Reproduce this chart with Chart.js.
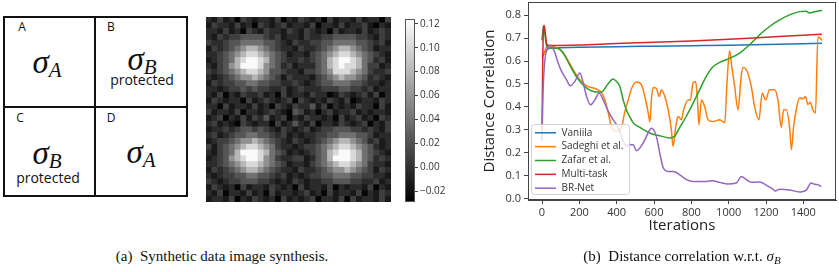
<!DOCTYPE html>
<html><head><meta charset="utf-8">
<script src="https://cdn.jsdelivr.net/npm/chart.js@4.4.0/dist/chart.umd.min.js"></script>
<style>
html,body{margin:0;padding:0;background:#fff;width:839px;height:272px;overflow:hidden;}
#wrap{position:relative;width:839px;height:272px;}
.abs{position:absolute;}
.lbl{position:absolute;font-family:'Open Sans',sans-serif;font-size:12px;color:#111;transform:translate(-50%,-50%);white-space:nowrap;line-height:1;}
.prot{position:absolute;font-family:'Open Sans',sans-serif;font-size:14px;color:#111;transform:translate(-50%,-50%);white-space:nowrap;line-height:1;}
.sig{position:absolute;font-family:'Liberation Serif',serif;font-style:italic;color:#111;white-space:nowrap;line-height:1;transform:translate(-50%,-50%);font-size:33px;}
.sig sub{font-size:21px;vertical-align:baseline;position:relative;top:0.2em;}
.cap{position:absolute;font-family:'Liberation Serif',serif;font-size:15px;color:#111;white-space:nowrap;transform:translate(-50%,-50%);line-height:1;}
.cap i sub{font-size:11px;vertical-align:baseline;position:relative;top:0.25em;}
canvas{position:absolute;}
</style></head>
<body><div id="wrap">
<div class="abs" style="left:3px;top:16px;width:185px;height:181px;border:2px solid #111;box-sizing:border-box;"></div>
<div class="abs" style="left:94px;top:16px;width:2px;height:181px;background:#111;"></div>
<div class="abs" style="left:3px;top:106px;width:185px;height:2px;background:#111;"></div>
<div class="lbl" style="left:22px;top:27px;">A</div>
<div class="lbl" style="left:111px;top:27px;">B</div>
<div class="lbl" style="left:20px;top:118px;">C</div>
<div class="lbl" style="left:111px;top:118px;">D</div>
<div class="sig" style="left:47px;top:62px;">σ<sub>A</sub></div>
<div class="sig" style="left:142px;top:59px;">σ<sub>B</sub></div>
<div class="prot" style="left:142px;top:80px;">protected</div>
<div class="sig" style="left:47px;top:153px;">σ<sub>B</sub></div>
<div class="prot" style="left:48px;top:178px;">protected</div>
<div class="sig" style="left:141px;top:152px;">σ<sub>A</sub></div>

<canvas id="heat" width="185" height="185" style="left:206px;top:17px;"></canvas>
<canvas id="cbar" width="45" height="203" style="left:405px;top:9px;"></canvas>
<canvas id="line" width="399" height="245" style="left:440px;top:0px;"></canvas>

<div class="cap" style="left:222px;top:256px;">(a)&nbsp;&nbsp;Synthetic data image synthesis.</div>
<div class="cap" style="left:682px;top:256px;">(b)&nbsp;&nbsp;Distance correlation w.r.t. <i>σ<sub>B</sub></i></div>
</div>
<script>
// ---------- heatmap data (32x32 grid of gray levels) ----------
const heatRows = [
"21312032 12213021 32120312 21312203",
"13221312 03212312 21302213 12231021",
"22131203 21322132 13212031 22131232",
"21323344 44323122 13223344 44332132",
"32234455 55443213 22334455 55443231",
"13234567 76543221 32234567 76543122",
"22345678 87654312 21345678 87654321",
"12345789 98754322 32345789 98754231",
"21346799 98654231 22245789 88753312",
"32345678 87644322 13345688 87653223",
"21234566 76543132 22134567 66542321",
"13233445 54433223 21234455 54432212",
"22123343 43322312 32223334 43323122",
"21302132 23120312 21322013 21231302",
"13212203 12321230 32121321 30122132",
"22031221 31203213 22413021 21322031",
"31221302 21232104 31202312 23121221",
"12302131 32412302 13221203 12312032",
"23121032 12203124 21302213 21230213",
"12232344 34321321 23123344 43323213",
"23123445 54432312 12233445 55443122",
"12334566 76543213 21234567 76542312",
"31345678 87653221 23345678 87654212",
"21345799 98754312 12345789 98754321",
"12346789 98653223 31245799 98754232",
"22345678 87654312 21345678 87653221",
"13234567 76543221 32234566 76543132",
"21233445 54432312 12334455 54433221",
"32123344 43321213 21223344 43322312",
"13212031 22132120 31221302 12213021",
"21302213 12031221 23120312 21302132",
"12213021 32120312 12302213 03122131"
];
const heatLevels = [-0.026,-0.014,-0.003,0.009,0.022,0.038,0.058,0.080,0.102,0.121];
const cbMin = -0.029, cbMax = 0.124;
const cbTickValues = [-0.02,0.00,0.02,0.04,0.06,0.08,0.10,0.12];
const cbTickLabels = ["\u22120.02","0.00","0.02","0.04","0.06","0.08","0.10","0.12"];

// ---------- line chart data ----------
const seriesNames = ["Vaniila","Sadeghi et al.","Zafar et al.","Multi-task","BR-Net"];
const seriesColors = ["#1f77b4","#ff7f0e","#2ca02c","#d62728","#9467bd"];
const xTickValues = [0,200,400,600,800,1000,1200,1400];
const xTickLabels = ["0","200","400","600","800","1000","1200","1400"];
const yTickValues = [0,0.1,0.2,0.3,0.4,0.5,0.6,0.7,0.8];
const yTickLabels = ["0.0","0.1","0.2","0.3","0.4","0.5","0.6","0.7","0.8"];

const vanillaIter = [0,10,20,35,60,100,200,400,600,800,1000,1200,1400,1500];
const vanillaDC   = [0.625,0.632,0.645,0.655,0.657,0.658,0.660,0.663,0.665,0.667,0.669,0.672,0.676,0.678];

const sadeghiIter = [0,10,20,34,50,96,132,167,203,239,283,319,337,355,373,400,426,444,462,480,506,533,551,569,578,587,595,613,628,640,658,676,693,702,717,729,747,759,783,795,809,823,832,841,854,872,889,916,952,979,991,1005,1016,1032,1050,1067,1077,1095,1121,1139,1162,1180,1198,1219,1246,1264,1282,1294,1308,1326,1336,1348,1365,1380,1397,1412,1424,1437,1451,1465,1478,1490,1500];
const sadeghiDC   = [0.615,0.630,0.655,0.668,0.665,0.650,0.613,0.562,0.518,0.492,0.480,0.463,0.430,0.374,0.310,0.293,0.310,0.380,0.430,0.480,0.508,0.496,0.445,0.374,0.335,0.440,0.485,0.480,0.445,0.475,0.445,0.387,0.300,0.227,0.314,0.358,0.344,0.387,0.430,0.430,0.504,0.511,0.440,0.322,0.430,0.400,0.344,0.336,0.344,0.330,0.504,0.645,0.580,0.490,0.387,0.533,0.572,0.562,0.490,0.400,0.344,0.460,0.430,0.475,0.475,0.430,0.310,0.387,0.387,0.314,0.213,0.314,0.400,0.440,0.435,0.445,0.410,0.420,0.387,0.373,0.705,0.700,0.690];

const zafarIter = [0,8,15,25,40,87,114,150,194,239,292,319,355,381,400,417,435,453,471,489,524,560,595,631,684,711,738,774,809,845,880,916,952,987,1005,1059,1112,1166,1219,1273,1326,1380,1415,1433,1460,1487,1500];
const zafarDC   = [0.690,0.750,0.720,0.665,0.657,0.655,0.635,0.580,0.520,0.482,0.465,0.465,0.502,0.522,0.510,0.489,0.430,0.385,0.355,0.330,0.310,0.293,0.280,0.274,0.264,0.272,0.310,0.360,0.415,0.475,0.533,0.575,0.594,0.606,0.612,0.635,0.671,0.715,0.751,0.780,0.802,0.816,0.818,0.810,0.815,0.820,0.822];

const multiIter = [0,4,8,12,18,25,35,60,200,400,600,800,1000,1200,1400,1500];
const multiDC   = [0.300,0.600,0.750,0.755,0.720,0.675,0.668,0.668,0.670,0.677,0.682,0.688,0.695,0.704,0.713,0.717];

const brnetIter = [0,5,15,30,43,55,70,87,105,132,150,176,203,221,239,260,283,306,328,355,381,408,435,453,462,489,506,542,578,587,613,631,649,676,702,738,774,809,880,916,952,996,1041,1068,1095,1121,1166,1201,1237,1250,1273,1326,1380,1400,1415,1442,1460,1478,1496];
const brnetDC   = [0.250,0.450,0.600,0.655,0.670,0.660,0.635,0.590,0.555,0.518,0.492,0.511,0.548,0.504,0.445,0.409,0.430,0.460,0.430,0.380,0.344,0.310,0.250,0.227,0.235,0.234,0.208,0.242,0.300,0.306,0.270,0.198,0.135,0.118,0.118,0.103,0.082,0.074,0.074,0.077,0.070,0.063,0.067,0.096,0.082,0.070,0.072,0.058,0.040,0.032,0.040,0.037,0.028,0.031,0.035,0.067,0.062,0.060,0.052];

const seriesIter = [vanillaIter,sadeghiIter,zafarIter,multiIter,brnetIter];
const seriesDC   = [vanillaDC,sadeghiDC,zafarDC,multiDC,brnetDC];

// ---------- heatmap chart ----------
function gray(v){let t=(v-cbMin)/(cbMax-cbMin);t=Math.max(0,Math.min(1,t));const g=Math.round(t*255);return `rgb(${g},${g},${g})`;}
const grid = heatRows.map(r=>r.replace(/\s/g,''));
const NR = grid.length, NC = grid[0].length;
const heatCols = Array.from({length:NC},(_,i)=>String(i));
const heatSets = [];
for(let k=0;k<NR;k++){
  const row = grid[NR-1-k];
  heatSets.push({data: heatCols.map(()=>1), backgroundColor: heatCols.map((_,c)=>gray(heatLevels[+row[c]])), borderWidth:0, barPercentage:1, categoryPercentage:1});
}
new Chart(document.getElementById('heat'),{
  type:'bar',
  data:{labels:heatCols, datasets:heatSets},
  options:{responsive:false,animation:false,events:[],layout:{padding:0},
    plugins:{legend:{display:false},tooltip:{enabled:false}},
    scales:{x:{stacked:true,display:false},y:{stacked:true,display:false,min:0,max:NR}}}
});

// ---------- colorbar ----------
const framePlugin = (color)=>({id:'frame'+color.replace('#',''),afterDraw(ch){const a=ch.chartArea;const c=ch.ctx;c.save();c.strokeStyle=color;c.lineWidth=1;c.strokeRect(Math.round(a.left)+0.5,Math.round(a.top)+0.5,Math.round(a.right-a.left)-1,Math.round(a.bottom-a.top)-1);c.restore();}});
new Chart(document.getElementById('cbar'),{
  type:'bar',
  data:{labels:[''],datasets:[{data:[[cbMin,cbMax]],borderWidth:0,barPercentage:1,categoryPercentage:1,
    backgroundColor:(c)=>{const ch=c.chart;const a=ch.chartArea;if(!a)return '#888';const g=ch.ctx.createLinearGradient(0,a.bottom,0,a.top);g.addColorStop(0,'#000');g.addColorStop(1,'#fff');return g;}}]},
  options:{responsive:false,animation:false,events:[],layout:{padding:{top:10,bottom:10,left:0,right:0}},
    plugins:{legend:{display:false},tooltip:{enabled:false}},
    scales:{x:{display:false},
      y:{position:'right',min:cbMin,max:cbMax,
        afterBuildTicks:s=>{s.ticks=cbTickValues.map(v=>({value:v}));},
        afterFit:s=>{s.width=35;s.paddingTop=0;s.paddingBottom=0;},
        ticks:{callback:(v,i)=>cbTickLabels[i],font:{family:'Open Sans',size:10},color:'#333',padding:2,autoSkip:false},
        grid:{display:true,drawOnChartArea:false,drawTicks:true,tickLength:3,color:'#444'},
        border:{display:false}}}},
  plugins:[framePlugin('#555')]
});

// ---------- line chart ----------
const legendPlugin = {id:'customLegend',afterDraw(ch){
  const a=ch.chartArea,c=ch.ctx;
  const bx=a.left+3.5, by=a.bottom-75.5, bw=98, bh=70;
  c.save();
  c.beginPath();
  if(c.roundRect){c.roundRect(bx,by,bw,bh,3);}else{c.rect(bx,by,bw,bh);}
  c.fillStyle='rgba(255,255,255,0.8)';c.fill();
  c.strokeStyle='#d0d0d0';c.lineWidth=1;c.stroke();
  c.font="10px 'Open Sans'";c.textBaseline='middle';c.fillStyle='#333';
  for(let i=0;i<seriesNames.length;i++){
    const yy=by+8.3+i*13.85;
    c.beginPath();c.moveTo(bx+3.5,yy);c.lineTo(bx+24.5,yy);c.strokeStyle=seriesColors[i];c.lineWidth=1.5;c.stroke();
    c.fillText(seriesNames[i],bx+30,yy);
  }
  c.restore();
}};
new Chart(document.getElementById('line'),{
  type:'line',
  data:{datasets:seriesNames.map((n,i)=>({label:n,data:seriesIter[i].map((x,j)=>({x:x,y:seriesDC[i][j]})),borderColor:seriesColors[i],backgroundColor:seriesColors[i],borderWidth:1.5,pointRadius:0,fill:false,cubicInterpolationMode:'monotone',order:4-i}))},
  options:{responsive:false,animation:false,events:[],
    layout:{padding:{left:0,right:3,top:2,bottom:0}},
    plugins:{legend:{display:false},tooltip:{enabled:false}},
    scales:{
      x:{type:'linear',min:-75,max:1575,
        afterBuildTicks:s=>{s.ticks=xTickValues.map(v=>({value:v}));},
        afterFit:s=>{s.height=45;s.paddingLeft=0;s.paddingRight=0;},
        ticks:{callback:(v,i)=>xTickLabels[i],font:{family:'Open Sans',size:11},color:'#333',padding:2,maxRotation:0,autoSkip:false},
        grid:{display:true,drawOnChartArea:false,drawTicks:true,tickLength:4,color:'#444'},
        border:{display:true,color:'#444'},
        title:{display:true,text:'Iterations',font:{family:'Open Sans',size:15},color:'#222',padding:{top:0,bottom:10}}},
      y:{type:'linear',min:-0.007,max:0.858,
        afterBuildTicks:s=>{s.ticks=yTickValues.map(v=>({value:v}));},
        afterFit:s=>{s.width=88;s.paddingTop=0;s.paddingBottom=0;},
        ticks:{callback:(v,i)=>yTickLabels[i],font:{family:'Open Sans',size:11},color:'#333',padding:3,autoSkip:false},
        grid:{display:true,drawOnChartArea:false,drawTicks:true,tickLength:4,color:'#444'},
        border:{display:true,color:'#444'},
        title:{display:true,text:'Distance Correlation',font:{family:'Open Sans',size:15},color:'#222',padding:{top:41,bottom:0}}}
    }},
  plugins:[framePlugin('#444'),legendPlugin]
});
</script>
</body></html>
